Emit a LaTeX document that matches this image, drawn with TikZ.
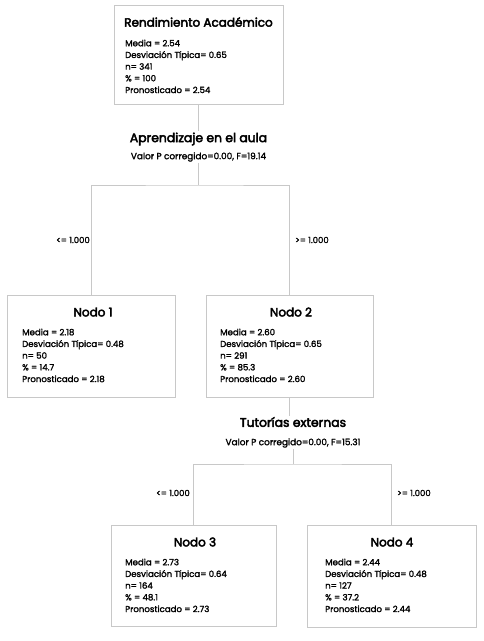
\documentclass[tikz,border=0pt]{standalone}
\usepackage{fontspec}
\setmainfont{Poppins}
\newfontfamily\semib[FakeBold=1.8]{Poppins}
\newfontfamily\medb[FakeBold=3.5]{Poppins}
\begin{document}
\begin{tikzpicture}[x=1pt,y=-1pt,
  box/.style={draw=lineg, line width=0.8pt, fill=white, inner sep=0pt, outer sep=0pt, anchor=north west},
  ttl/.style={font=\medb\fontsize{12}{15}\selectfont, inner sep=0pt},
  body/.style={font=\semib\fontsize{8.6}{11.7}\selectfont, align=left, anchor=north west, inner sep=0pt},
  split/.style={font=\medb\fontsize{12.4}{15}\selectfont, inner sep=1pt},
  pval/.style={font=\semib\fontsize{8.9}{9}\selectfont, inner sep=1pt},
  cond/.style={font=\semib\fontsize{8.5}{9}\selectfont, inner sep=0pt},
  conn/.style={draw=lineg, line width=0.8pt}]
\definecolor{lineg}{RGB}{200,200,200}
\useasboundingbox[fill=white] (0,0) rectangle (484,641);
% boxes
\node[box, minimum width=169pt, minimum height=99pt] (root) at (114,5) {};
\node[box, minimum width=168pt, minimum height=102pt] (n1) at (7,295) {};
\node[box, minimum width=167pt, minimum height=102pt] (n2) at (206,295) {};
\node[box, minimum width=165pt, minimum height=101pt] (n3) at (111,525) {};
\node[box, minimum width=169pt, minimum height=102pt] (n4) at (307,525) {};
% titles
\node[ttl] (rootT) at (198.5,22) {Rendimiento Académico};
\node[ttl] (n1T) at (93,312) {Nodo 1};
\node[ttl] (n2T) at (291,312) {Nodo 2};
\node[ttl] (n3T) at (195,542) {Nodo 3};
\node[ttl] (n4T) at (392,542) {Nodo 4};
% bodies
\node[body] (rootB) at (125,39.5) {Media = 2.54\\Desviación Típica= 0.65\\n= 341\\\% = 100\\Pronosticado = 2.54};
\node[body] (n1B) at (22,328.5) {Media = 2.18\\Desviación Típica= 0.48\\n= 50\\\% = 14.7\\Pronosticado = 2.18};
\node[body] (n2B) at (220,328.5) {Media = 2.60\\Desviación Típica= 0.65\\n= 291\\\% = 85.3\\Pronosticado = 2.60};
\node[body] (n3B) at (125,558.5) {Media = 2.73\\Desviación Típica= 0.64\\n= 164\\\% = 48.1\\Pronosticado = 2.73};
\node[body] (n4B) at (325,558.5) {Media = 2.44\\Desviación Típica= 0.48\\n= 127\\\% = 37.2\\Pronosticado = 2.44};
% split labels
\node[split] (s1T) at (198.5,139) {Aprendizaje en el aula};
\node[pval] (s1P) at (198.5,157) {Valor P corregido=0.00, F=19.14};
\node[split] (s2T) at (293,422) {Tutorías externas};
\node[pval] (s2P) at (293,443) {Valor P corregido=0.00, F=15.31};
\coordinate (j1) at (198.5,185);
\coordinate (j2) at (293,464);
% connectors
\draw[conn] (root.south) -- (root.south |- s1T.north);
\draw[conn] (s1P.south) -- (j1);
\draw[conn] (n1.north) |- (j1) -| (n2.north);
\draw[conn] (n2.south) -- (n2.south |- s2T.north);
\draw[conn] (s2P.south) -- (j2);
\draw[conn] (n3.north) |- (j2) -| (n4.north);
% conditions
\node[cond, anchor=east] (c1) at (90,240) {<= 1.000};
\node[cond, anchor=west] (c2) at (295,240) {>= 1.000};
\node[cond, anchor=east] (c3) at (190,493) {<= 1.000};
\node[cond, anchor=west] (c4) at (397,493) {>= 1.000};
\end{tikzpicture}
\end{document}
